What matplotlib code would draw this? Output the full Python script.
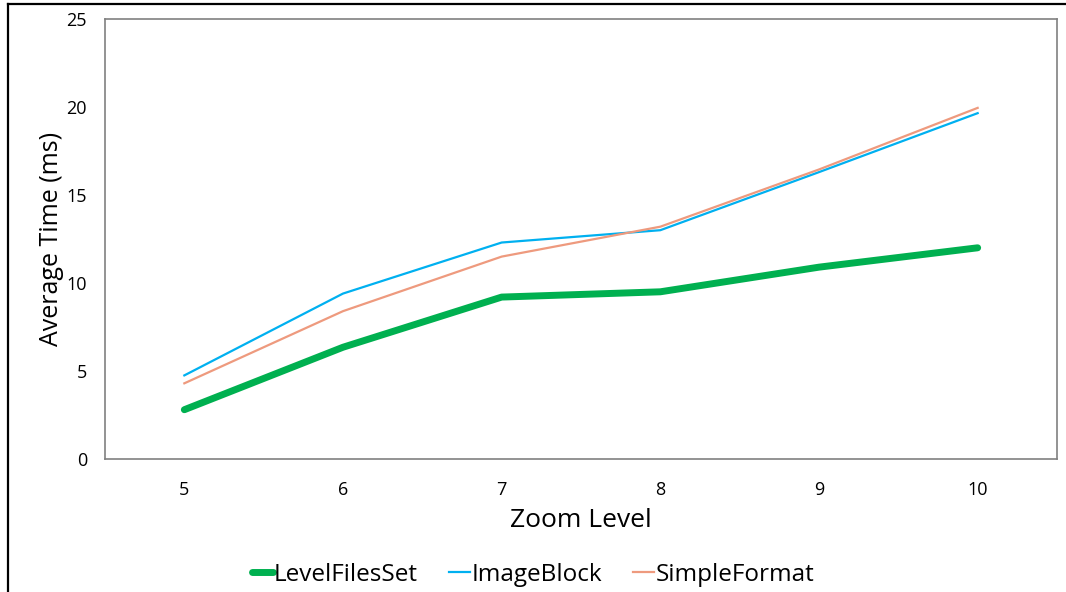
import matplotlib
matplotlib.use("Agg")
import matplotlib.pyplot as plt
from matplotlib.lines import Line2D

plt.rcParams['font.family'] = ['Open Sans', 'DejaVu Sans']

zoom_levels = ["5", "6", "7", "8", "9", "10"]
level_files_set = [2.8, 6.35, 9.2, 9.5, 10.9, 12.0]
image_block = [4.75, 9.4, 12.3, 13.0, 16.3, 19.65]
simple_format = [4.3, 8.4, 11.5, 13.2, 16.45, 19.95]

fig = plt.figure(figsize=(10.66, 5.92), dpi=100)
ax = fig.add_axes([105 / 1066, 1 - 459 / 592, 952 / 1066, 440 / 592])

x = range(len(zoom_levels))
ax.plot(x, level_files_set, color="#00B050", lw=5, solid_capstyle="round", label="LevelFilesSet")
ax.plot(x, image_block, color="#00B0F0", lw=1.6, label="ImageBlock")
ax.plot(x, simple_format, color="#EE9A7E", lw=1.6, label="SimpleFormat")

ax.set_xlim(-0.5, len(zoom_levels) - 0.5)
ax.set_ylim(0, 25)
ax.set_yticks([0, 5, 10, 15, 20, 25])
ax.set_xticks(list(x))
ax.set_xticklabels(zoom_levels)
ax.tick_params(length=0, labelsize=13)
ax.tick_params(axis="y", pad=13)
ax.tick_params(axis="x", pad=16)
for s in ax.spines.values():
    s.set_color("#808080")
    s.set_linewidth(1.2)

ax.set_xlabel("Zoom Level", fontsize=19, labelpad=6)
ax.set_ylabel("Average Time (ms)", fontsize=18, labelpad=2)

leg = fig.legend(loc="center", bbox_to_anchor=(0.5, 1 - 575 / 592), ncol=3, frameon=False,
                 fontsize=17.5, handlelength=0.85, handletextpad=0.05, columnspacing=1.3)

# outer border (top and left)
fig.add_artist(Line2D([8 / 1066, 1], [1 - 4 / 592, 1 - 4 / 592], color="black", lw=1.6))
fig.add_artist(Line2D([8 / 1066, 8 / 1066], [0, 1 - 4 / 592], color="black", lw=1.6))

fig.savefig("out.png", dpi=100)
